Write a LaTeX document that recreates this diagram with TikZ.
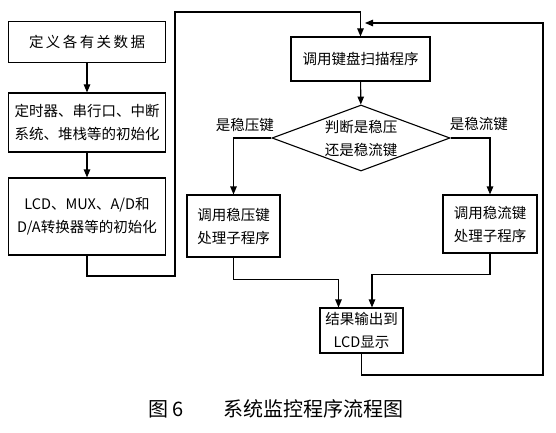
\documentclass[tikz,border=0pt]{standalone}
\usepackage{fontspec}
\setmainfont{Liberation Serif}
\newfontfamily\cjk{Noto Sans CJK SC}
\usepackage{tikz}
\usetikzlibrary{arrows.meta,calc,positioning,shapes.geometric}

\begin{document}
\begin{tikzpicture}[x=1pt,y=-1pt,line width=1.1pt,
    font=\cjk\fontsize{14.5}{23}\selectfont,
    box/.style={draw,align=center,inner sep=0pt},
    flowarr/.style={-{Triangle[length=8pt,width=6.5pt]}}]
  \useasboundingbox (0,0) rectangle (556,433);
  % initialisation column
  \node[box,minimum width=157pt,minimum height=41pt] (def) at (87,42) {定\,义\,各\,有\,关\,数\,据};
  \node[box,minimum width=157pt,minimum height=59pt] (init) at (87,122.5) {定时器、串行口、中断\\系统、堆栈等的初始化};
  \node[box,minimum width=157pt,minimum height=77pt] (lcd) at (87,216.5) {LCD、MUX、A/D和\\D/A转换器等的初始化};
  % monitor loop
  \node[box,minimum width=139pt,minimum height=44pt] (scan) at (360.5,59) {调用键盘扫描程序};
  \node[draw,diamond,aspect=2.7,inner sep=0pt,minimum width=178pt,minimum height=66pt,align=center] (judge) at (361,138) {判断是稳压\\还是稳流键};
  \node[box,minimum width=93pt,minimum height=62pt] (subL) at (233.5,226) {调用稳压键\\处理子程序};
  \node[box,minimum width=94pt,minimum height=58pt] (subR) at (490,224) {调用稳流键\\处理子程序};
  \node[box,minimum width=83pt,minimum height=45pt] (out) at (361.5,330.5) {结果输出到\\LCD显示};
  \coordinate (jl) at (175,276);
  \coordinate (jt) at (175,12);
  \coordinate (rb) at (543,375);
  \coordinate (rt) at (543,23);
  \coordinate (rend) at (365,23);

  \draw[flowarr] (def) -- (init);
  \draw[flowarr] (init) -- (lcd);
  \draw[flowarr] (lcd.south) |- (jl) -- (jt) -| (scan.north);
  \draw[flowarr] (scan) -- (judge);
  \draw[flowarr] (judge.west) -| node[above,pos=.35,yshift=2pt] {是稳压键} (subL.north);
  \draw[flowarr] (judge.east) -| node[above,pos=.36,yshift=3pt] {是稳流键} (subR.north);
  \draw[flowarr] (subL.south) -- ++(0,22) -| ([xshift=-23pt]out.north);
  \draw[flowarr] (subR.south) -- ++(0,21) -| ([xshift=10.5pt]out.north);
  \draw[flowarr] (out.south) |- (rb) -- (rt) -- (rend);

  \node[font=\cjk\fontsize{20}{24}\selectfont] (cap) at (276,409) {图 6\quad\quad 系统监控程序流程图};
\end{tikzpicture}
\end{document}
